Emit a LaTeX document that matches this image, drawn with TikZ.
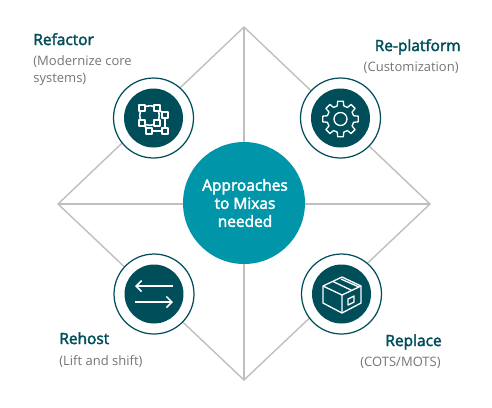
\documentclass[tikz,border=0pt]{standalone}
\usepackage{fontspec}
\setmainfont{Open Sans}[BoldFont={Open Sans},BoldFeatures={FakeBold=2.5}]
\usetikzlibrary{arrows.meta}
\definecolor{tealdark}{HTML}{004E5A}
\definecolor{tealmid}{HTML}{0095A8}
\definecolor{greyline}{HTML}{BFBFBF}
\definecolor{greytext}{HTML}{757575}
\tikzset{
  ringout/.style={circle,draw=tealdark,line width=0.7pt,fill=white,minimum size=1.6cm,inner sep=0pt},
  ringin/.style={circle,fill=tealdark,minimum size=1.18cm,inner sep=0pt},
  headtext/.style={text=tealdark,font=\fontsize{8.8}{10}\selectfont\bfseries,inner sep=0pt},
  subtext/.style={text=greytext,font=\fontsize{7.4}{9.6}\selectfont,inner sep=0pt},
  iconline/.style={draw=white,line width=0.75pt,line join=round}
}
\begin{document}
\begin{tikzpicture}[x=0.02cm,y=-0.02cm,>={Straight Barb[length=1.1mm,width=2.2mm]}]
  \useasboundingbox (0,0) rectangle (492,407);
  % rombo exterior
  \coordinate (top) at (244,27);
  \coordinate (right) at (430,204);
  \coordinate (bottom) at (244,380);
  \coordinate (left) at (58,204);
  \draw[greyline,line width=0.8pt] (top)--(right)--(bottom)--(left)--cycle;
  \draw[greyline,line width=0.8pt] (top)--(bottom) (left)--(right);
  % circulo central
  \node[circle,fill=tealmid,minimum size=2.44cm,inner sep=0pt,text=white,align=center,
        font=\fontsize{8.8}{10.3}\selectfont\bfseries] (center) at (244,203)
        {\hspace{0.04cm}Approaches\\\hspace{0.04cm}to Mixas\\\hspace{0.04cm}needed};
  % anillos con iconos
  \node[ringout] (refactorout) at (153.5,118) {};
  \node[ringin] (refactorin) at (153.5,118) {};
  \node[ringout] (platformout) at (340.5,118) {};
  \node[ringin] (platformin) at (340.5,118) {};
  \node[ringout] (rehostout) at (154,294) {};
  \node[ringin] (rehostin) at (154,294) {};
  \node[ringout] (replaceout) at (341.5,294) {};
  \node[ringin] (replacein) at (341.5,294) {};
  % icono refactor
  \begin{scope}[shift={(150,118)}]
    \draw[iconline,line width=0.9pt] (-8,-10) .. controls (-2,-13) and (3,-13) .. (7,-10) .. controls (10,-5) and (10,0) .. (7,5) .. controls (3,8) and (-3,8) .. (-8,5) .. controls (-11,0) and (-11,-5) .. cycle;
    \draw[iconline,line width=0.9pt] (7,-10)--(15,-3)--(15,13)--(-1,13)--(-8,5);
    \foreach \xa/\ya in {-8/-10,7/-10,-8/5,7/5,15/-3,-1/13,15/13}
      \draw[iconline,line width=0.9pt,fill=tealdark] (\xa-3,\ya-3) rectangle (\xa+3,\ya+3);
  \end{scope}
  % icono engranaje
  \begin{scope}[shift={(340.5,119)}]
    \draw[iconline] (0,0) circle(6.5);
    \draw[iconline] (-14:13.5)
      \foreach \ang in {0,45,90,135,180,225,270,315}
        {-- (\ang-14:13.5) -- (\ang-9:18) -- (\ang+9:18) -- (\ang+14:13.5)} -- cycle;
  \end{scope}
  % icono flechas
  \draw[->,iconline,line width=0.9pt] (173,286)--(135,286);
  \draw[->,iconline,line width=0.9pt] (135,302)--(173,302);
  % icono caja
  \begin{scope}[shift={(342,294)}]
    \draw[iconline] (0,-17)--(19,-8)--(19,9)--(0,19)--(-19,9)--(-19,-8)--cycle;
    \draw[iconline] (-19,-8)--(0,1)--(19,-8) (0,1)--(0,19);
    \draw[iconline] (-9,-12.5)--(10,-3.5) (-1,-15)--(17,-7);
    \draw[iconline] (6,5)--(12,2)--(12,8)--(6,11)--cycle;
  \end{scope}
  % etiquetas
  \node[headtext,anchor=base west] (refactorlab) at (33,45) {Refactor};
  \node[subtext,anchor=base west] (refactorsub) at (33,65) {(Modernize core};
  \node[subtext,anchor=base west] (refactorsubb) at (33,82) {systems)};
  \node[headtext,anchor=base east] (platformlab) at (461,51) {Re-platform};
  \node[subtext,anchor=base east] (platformsub) at (459,71) {(Customization)};
  \node[headtext,anchor=base west] (rehostlab) at (59,344) {Rehost};
  \node[subtext,anchor=base west] (rehostsub) at (59,365) {(Lift and shift)};
  \node[headtext,anchor=base east] (replacelab) at (442,346) {Replace};
  \node[subtext,anchor=base east] (replacesub) at (441,366) {(COTS/MOTS)};
\end{tikzpicture}
\end{document}
